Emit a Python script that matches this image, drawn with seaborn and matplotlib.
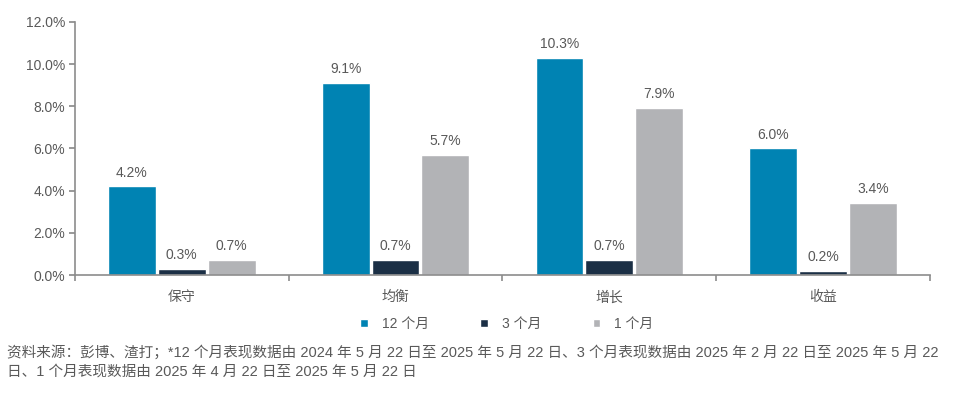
import pandas as pd
import matplotlib.pyplot as plt
import seaborn as sns
from matplotlib.ticker import FuncFormatter, FixedLocator

# data (% returns)
categories = ["保守", "均衡", "增长", "收益"]
periods = ["12 个月", "3 个月", "1 个月"]
ret_12m = [4.2, 9.1, 10.3, 6.0]
ret_3m = [0.3, 0.7, 0.7, 0.2]
ret_1m = [0.7, 5.7, 7.9, 3.4]
yticks = [0, 2, 4, 6, 8, 10, 12]

colors = ["#0083B3", "#1B2F45", "#B2B3B6"]
txt = "#595959"
axis_col = "#8C8C8C"

df = pd.DataFrame({
    "cat": categories * 3,
    "period": [periods[0]] * 4 + [periods[1]] * 4 + [periods[2]] * 4,
    "val": ret_12m + ret_3m + ret_1m,
})

sns.set_theme(style="white")
plt.rcParams["font.family"] = ["Liberation Sans", "Noto Sans CJK SC", "DejaVu Sans"]

fig = plt.figure(figsize=(9.58, 3.97), dpi=100)
ax = fig.add_axes([0.078, 0.307, 0.893, 0.638])

sns.barplot(data=df, x="cat", y="val", hue="period", order=categories,
            hue_order=periods, palette=colors, width=0.7, gap=0.04,
            saturation=1, legend=True, ax=ax)

# value labels above bars
for cont in ax.containers:
    ax.bar_label(cont, labels=[f"{v:.1f}%" for v in cont.datavalues],
                 padding=5, fontsize=10, color=txt)

ax.set_ylim(0, 12)
ax.set_xlim(-0.5, 3.5)
ax.set_yticks(yticks)
ax.yaxis.set_major_formatter(FuncFormatter(lambda v, p: f"{v:.1f}%"))
ax.set_xlabel("")
ax.set_ylabel("")

for s in ["top", "right"]:
    ax.spines[s].set_visible(False)
for s in ["left", "bottom"]:
    ax.spines[s].set_color(axis_col)
    ax.spines[s].set_linewidth(1.2)

ax.tick_params(axis="y", left=True, length=4, color=axis_col, labelsize=10,
               labelcolor=txt, pad=3)
ax.tick_params(axis="x", which="major", length=0, labelsize=10,
               labelcolor=txt, pad=11)
# category boundary ticks
ax.xaxis.set_minor_locator(FixedLocator([-0.5, 0.5, 1.5, 2.5, 3.5]))
ax.tick_params(axis="x", which="minor", bottom=True, length=4, color=axis_col,
               width=1.2)

ax.legend(loc="upper center", bbox_to_anchor=(0.505, -0.115), ncol=3,
          frameon=False, fontsize=10, labelcolor=txt, handlelength=0.55,
          handleheight=0.55, handletextpad=1.0, columnspacing=3.7)

fig.text(0.007, 1 - 345 / 397,
         "资料来源：彭博、渣打；*12 个月表现数据由 2024 年 5 月 22 日至 2025 年 5 月 22 日、3 个月表现数据由 2025 年 2 月 22 日至 2025 年 5 月 22\n"
         "日、1 个月表现数据由 2025 年 4 月 22 日至 2025 年 5 月 22 日",
         fontsize=10.5, color=txt, ha="left", va="top", linespacing=1.45)

fig.savefig("out.png", dpi=100)
